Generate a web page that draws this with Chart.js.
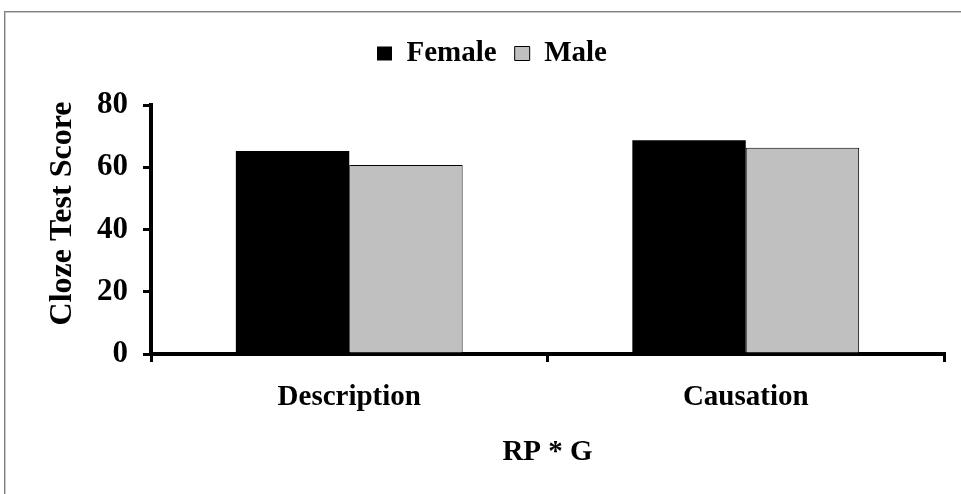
<!DOCTYPE html>
<html>
<head>
<meta charset="utf-8">
<script src="https://cdn.jsdelivr.net/npm/chart.js@4/dist/chart.umd.min.js"></script>
<style>
  html, body { margin: 0; padding: 0; background: #ffffff; overflow: hidden; }
  #wrap { position: relative; width: 961px; height: 494px; overflow: hidden; }
  #frame { position: absolute; left: 4px; top: 11px; width: 2000px; height: 2000px;
           border-left: 1px solid #7f7f7f; border-top: 1px solid #7f7f7f;
           box-shadow: inset 1px 1px 0 #c8c8c8; }
  #c { position: absolute; left: 0; top: 0; }
</style>
</head>
<body>
<div id="wrap">
  <div id="frame"></div>
  <canvas id="c" width="961" height="494"></canvas>
</div>
<script>
const categories = ["Description", "Causation"];
const seriesNames = ["Female", "Male"];
const femaleScores = [65.2, 68.7];
const maleScores = [60.7, 66.3];
const yTicks = [0, 20, 40, 60, 80];
const xTitle = "RP * G";
const yTitle = "Cloze Test Score";

const FONT = "'Liberation Serif', 'Times New Roman', serif";
const font = { family: FONT, size: 29, weight: 'bold' };
const yTickFont = { family: FONT, size: 31, weight: 'bold' };
const yTitleFont = { family: FONT, size: 32, weight: 'bold' };

const legendSpacer = {
  id: 'legendSpacer',
  beforeInit(chart) {
    const origFit = chart.legend.fit;
    chart.legend.fit = function () {
      origFit.call(this);
      this.height += 27;
    };
  }
};

new Chart(document.getElementById('c'), {
  type: 'bar',
  data: {
    labels: categories,
    datasets: [
      { label: seriesNames[0], data: femaleScores, backgroundColor: '#000000', borderColor: '#000000', borderWidth: 0 },
      { label: seriesNames[1], data: maleScores, backgroundColor: '#c0c0c0', borderColor: '#000000', borderWidth: 1 }
    ]
  },
  options: {
    responsive: false,
    animation: false,
    devicePixelRatio: 1,
    layout: { padding: { left: 40, right: 17, top: 21, bottom: 0 } },
    datasets: { bar: { categoryPercentage: 0.572, barPercentage: 1.0 } },
    plugins: {
      legend: {
        position: 'top',
        labels: { font: font, color: '#000000', boxWidth: 15, boxHeight: 14, padding: 18 }
      },
      tooltip: { enabled: false }
    },
    scales: {
      x: {
        grid: { offset: true, drawOnChartArea: false, drawTicks: true, tickLength: 8, color: '#000000', tickColor: '#000000', tickWidth: 3, lineWidth: 3 },
        border: { display: true, color: '#000000', width: 4 },
        ticks: { font: font, color: '#000000', padding: 18 },
        title: { display: true, text: xTitle, font: font, color: '#000000', padding: { top: 0, bottom: 24 } },
        afterFit(scale) { scale.height = 494 - 354; }
      },
      y: {
        min: 0, max: 80,
        afterBuildTicks(scale) { scale.ticks = yTicks.map(v => ({ value: v })); },
        grid: { drawOnChartArea: false, drawTicks: true, tickLength: 8, color: '#000000', tickColor: '#000000', tickWidth: 3, lineWidth: 3 },
        border: { display: true, color: '#000000', width: 4 },
        ticks: { font: yTickFont, color: '#000000', padding: 15 },
        title: { display: true, text: "    " + yTitle, font: yTitleFont, color: '#000000', padding: { top: 4, bottom: 0 } },
        afterFit(scale) { scale.width = 151 - 40; }
      }
    }
  },
  plugins: [legendSpacer]
});
</script>
</body>
</html>
